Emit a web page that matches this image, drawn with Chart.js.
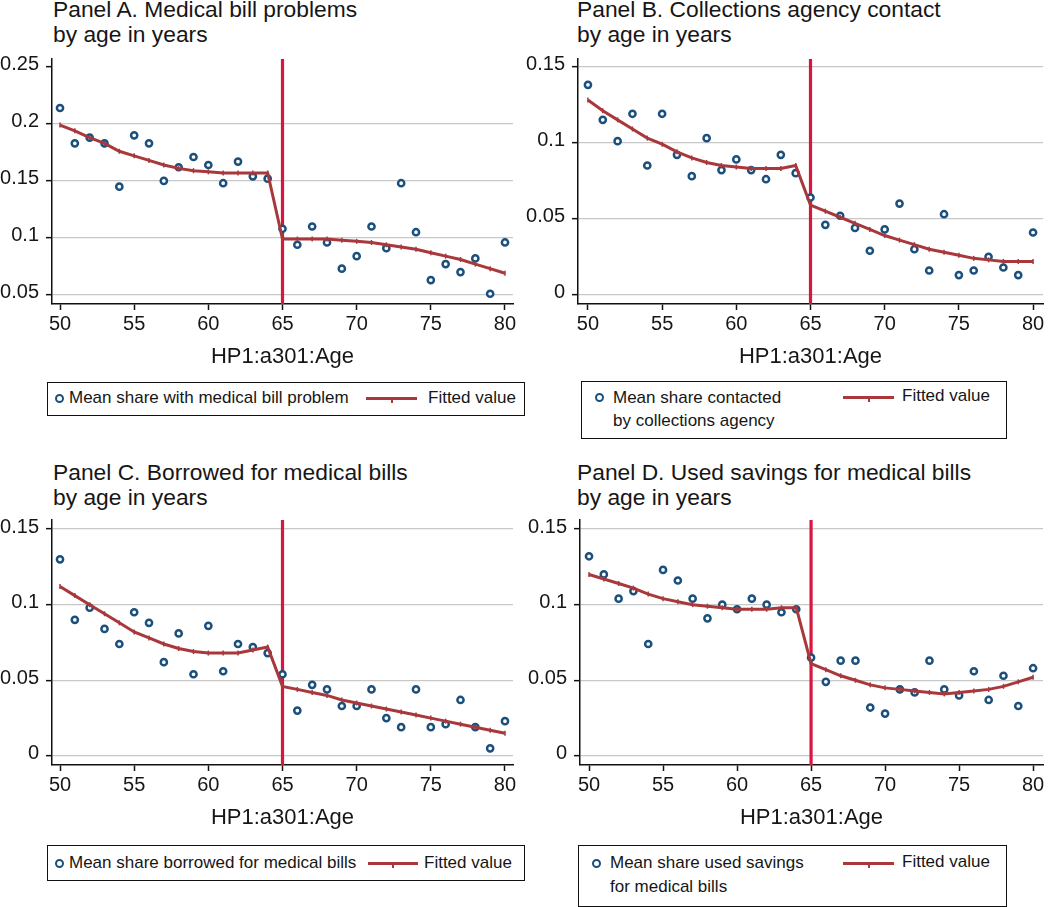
<!DOCTYPE html>
<html>
<head>
<meta charset="utf-8">
<title>Medical bill problems by age</title>
<script src="https://cdn.jsdelivr.net/npm/chart.js@4.4.1/dist/chart.umd.min.js"></script>
<style>
  body { margin: 0; background: #fff; }
  #page { position: relative; width: 1050px; height: 907px; overflow: hidden; font-family: "Liberation Sans", Arial, sans-serif; color: #161616; }
  .panel-title { position: absolute; font-size: 22.8px; line-height: 25px; white-space: nowrap; }
  canvas { position: absolute; }
  .legend-box { position: absolute; border: 1.5px solid #111; box-sizing: border-box; }
  .lg-text { position: absolute; font-size: 17px; line-height: 20px; white-space: nowrap; }
  .lg-dot { position: absolute; width: 9px; height: 9px; border: 2.5px solid #1b4f7c; border-radius: 50%; box-sizing: border-box; background: #fff; }
  .lg-line { position: absolute; height: 3px; background: #a8383b; }
  .lg-line::after { content: ''; position: absolute; left: 50%; top: 3px; width: 2px; height: 3px; margin-left: -1px; background: #a8383b; }
</style>
</head>
<body>
<div id="page"></div>
<script>
//Ages (x categories)
const ages = [50, 51, 52, 53, 54, 55, 56, 57, 58, 59, 60, 61, 62, 63, 64, 65,
  66, 67, 68, 69, 70, 71, 72, 73, 74, 75, 76, 77, 78, 79, 80];
const cutoffAge = 65;
const xTicks = [50, 55, 60, 65, 70, 75, 80];
const xAxisTitle = 'HP1:a301:Age';

//Panel A
const billProblemMeans = [0.214, 0.183, 0.188, 0.183, 0.145, 0.190, 0.183, 0.150, 0.162, 0.171, 0.164, 0.148, 0.167, 0.154, 0.152,
  0.108, 0.094, 0.110, 0.096, 0.073, 0.084, 0.110, 0.091, 0.148, 0.105, 0.063, 0.077, 0.070, 0.082, 0.051, 0.096];
const billProblemFit = [0.199, 0.194, 0.188, 0.183, 0.176, 0.172, 0.168, 0.164, 0.161, 0.159, 0.158, 0.157, 0.157, 0.157, 0.157,
  0.099, 0.099, 0.099, 0.099, 0.098, 0.097, 0.096, 0.094, 0.092, 0.090, 0.087, 0.084, 0.081, 0.077, 0.073, 0.069];
const billProblemTicks = [0.05, 0.1, 0.15, 0.2, 0.25];

//Panel B
const collectionsMeans = [0.138, 0.115, 0.101, 0.119, 0.085, 0.119, 0.092, 0.078, 0.103, 0.082, 0.089, 0.082, 0.076, 0.092, 0.080,
  0.064, 0.046, 0.052, 0.044, 0.029, 0.043, 0.060, 0.030, 0.016, 0.053, 0.013, 0.016, 0.025, 0.018, 0.013, 0.041];
const collectionsFit = [0.128, 0.121, 0.115, 0.109, 0.103, 0.099, 0.094, 0.090, 0.087, 0.085, 0.084, 0.083, 0.083, 0.083, 0.085,
  0.059, 0.055, 0.051, 0.047, 0.043, 0.039, 0.036, 0.033, 0.030, 0.028, 0.026, 0.024, 0.023, 0.022, 0.022, 0.022];

//Panel C
const borrowedMeans = [0.130, 0.090, 0.098, 0.084, 0.074, 0.095, 0.088, 0.062, 0.081, 0.054, 0.086, 0.056, 0.074, 0.072, 0.068,
  0.054, 0.030, 0.047, 0.044, 0.033, 0.033, 0.044, 0.025, 0.019, 0.044, 0.019, 0.021, 0.037, 0.019, 0.005, 0.023];
const borrowedFit = [0.112, 0.106, 0.100, 0.094, 0.088, 0.082, 0.078, 0.074, 0.071, 0.069, 0.068, 0.068, 0.068, 0.070, 0.072,
  0.046, 0.044, 0.042, 0.040, 0.037, 0.035, 0.033, 0.031, 0.029, 0.027, 0.025, 0.023, 0.021, 0.019, 0.017, 0.015];

//Panel D
const savingsMeans = [0.132, 0.120, 0.104, 0.109, 0.074, 0.123, 0.116, 0.104, 0.091, 0.100, 0.097, 0.104, 0.100, 0.095, 0.097,
  0.065, 0.049, 0.063, 0.063, 0.032, 0.028, 0.044, 0.042, 0.063, 0.044, 0.040, 0.056, 0.037, 0.053, 0.033, 0.058];
const savingsFit = [0.120, 0.117, 0.114, 0.111, 0.107, 0.104, 0.102, 0.100, 0.099, 0.098, 0.097, 0.097, 0.097, 0.098, 0.098,
  0.061, 0.057, 0.053, 0.050, 0.047, 0.045, 0.044, 0.043, 0.042, 0.041, 0.042, 0.043, 0.044, 0.046, 0.049, 0.052];

const shareTicks = [0, 0.05, 0.1, 0.15];

const FONT = '"Liberation Sans", Arial, sans-serif';
const DOT_COLOR = '#1b4f7c';
const FIT_COLOR = '#a8383b';
const CUTOFF_COLOR = '#d8173f';
const GRID_COLOR = '#c8c8c8';
const INK = '#161616';

const panels = [
  {
    title: ['Panel A. Medical bill problems', 'by age in years'],
    means: billProblemMeans, fit: billProblemFit, yTicks: billProblemTicks, noGridAt: 0.25,
    yMin: 0.042, yMax: 0.257, xMin: 49.46, xMax: 80.54,
    left: 0, plotTop: 58, axisWidth: 52, padRight: 12, titleX: 53, titleY: -3,
    legend: {
      box: [47, 382, 525, 416], dot: [59, 398], text: [[69, 398, 'Mean share with medical bill problem']],
      line: [366, 417, 398], fitText: [428, 398]
    }
  },
  {
    title: ['Panel B. Collections agency contact', 'by age in years'],
    means: collectionsMeans, fit: collectionsFit, yTicks: shareTicks, noGridAt: null,
    yMin: -0.006, yMax: 0.155, xMin: 49.33, xMax: 80.67,
    left: 525, plotTop: 58, axisWidth: 53, padRight: 7, titleX: 577, titleY: -3,
    legend: {
      box: [581, 381, 1007, 439], dot: [599, 397],
      text: [[613, 398, 'Mean share contacted'], [613, 421, 'by collections agency']],
      line: [843, 894, 397], fitText: [902, 396]
    }
  },
  {
    title: ['Panel C. Borrowed for medical bills', 'by age in years'],
    means: borrowedMeans, fit: borrowedFit, yTicks: shareTicks, noGridAt: null,
    yMin: -0.006, yMax: 0.156, xMin: 49.46, xMax: 80.54,
    left: 0, plotTop: 519, axisWidth: 52, padRight: 12, titleX: 53, titleY: 460,
    legend: {
      box: [47, 845, 525, 881], dot: [59, 863], text: [[69, 863, 'Mean share borrowed for medical bills']],
      line: [368, 418, 863], fitText: [424, 863]
    }
  },
  {
    title: ['Panel D. Used savings for medical bills', 'by age in years'],
    means: savingsMeans, fit: savingsFit, yTicks: shareTicks, noGridAt: null,
    yMin: -0.006, yMax: 0.156, xMin: 49.39, xMax: 80.67,
    left: 525, plotTop: 519, axisWidth: 55, padRight: 7, titleX: 577, titleY: 460,
    legend: {
      box: [578, 845, 1007, 907], dot: [596, 863],
      text: [[610, 863, 'Mean share used savings'], [610, 887, 'for medical bills']],
      line: [843, 894, 863], fitText: [902, 862]
    }
  }
];

//Vertical line at the age-65 cutoff
const cutoffLine = {
  id: 'cutoffLine',
  beforeDatasetsDraw(chart, args, opts) {
    const {ctx, chartArea, scales} = chart;
    const x = scales.x.getPixelForValue(opts.value);
    ctx.save();
    ctx.strokeStyle = opts.color;
    ctx.lineWidth = opts.width;
    ctx.beginPath();
    ctx.moveTo(x, chartArea.top);
    ctx.lineTo(x, chartArea.bottom);
    ctx.stroke();
    ctx.restore();
  }
};

const page = document.getElementById('page');

function addEl(cls, styles, text) {
  const el = document.createElement('div');
  el.className = cls;
  Object.assign(el.style, styles);
  if (text) el.textContent = text;
  page.appendChild(el);
  return el;
}

//Legend box in the Stata style
function renderLegend(lg) {
  const [l, t, r, b] = lg.box;
  addEl('legend-box', {left: l + 'px', top: t + 'px', width: (r - l) + 'px', height: (b - t) + 'px'});
  addEl('lg-dot', {left: (lg.dot[0] - 4.5) + 'px', top: (lg.dot[1] - 4.5) + 'px'});
  lg.text.forEach(([x, y, s]) => addEl('lg-text', {left: x + 'px', top: (y - 10) + 'px'}, s));
  addEl('lg-line', {left: lg.line[0] + 'px', top: (lg.line[2] - 1.5) + 'px', width: (lg.line[1] - lg.line[0]) + 'px'});
  addEl('lg-text', {left: lg.fitText[0] + 'px', top: (lg.fitText[1] - 10) + 'px'}, 'Fitted value');
}

//One panel: scatter of means, fitted line, cutoff
function renderPanel(p) {
  const titleEl = addEl('panel-title', {left: p.titleX + 'px', top: p.titleY + 'px'});
  titleEl.innerHTML = p.title.join('<br>');

  const canvas = document.createElement('canvas');
  canvas.width = 525;
  canvas.height = 340;
  canvas.style.left = p.left + 'px';
  canvas.style.top = (p.plotTop - 18) + 'px';
  page.appendChild(canvas);

  const meanPoints = ages.map((a, i) => ({x: a, y: p.means[i]}));
  const fitPoints = ages.map((a, i) => ({x: a, y: p.fit[i]}));

  new Chart(canvas, {
    type: 'scatter',
    data: {
      datasets: [
        {
          label: 'Mean share',
          data: meanPoints,
          order: 2,
          pointRadius: 3.1,
          pointHoverRadius: 3.1,
          pointBorderWidth: 2.5,
          borderColor: DOT_COLOR,
          backgroundColor: '#fff'
        },
        {
          label: 'Fitted value',
          data: fitPoints,
          order: 1,
          showLine: true,
          borderColor: FIT_COLOR,
          borderWidth: 3,
          pointStyle: 'line',
          rotation: 90,
          pointRadius: 2.5,
          pointBorderWidth: 1.5,
          pointBorderColor: FIT_COLOR,
          backgroundColor: FIT_COLOR
        }
      ]
    },
    options: {
      responsive: false,
      animation: false,
      devicePixelRatio: 1,
      layout: {padding: {top: 18, right: p.padRight, left: 0, bottom: 0}},
      plugins: {
        legend: {display: false},
        tooltip: {enabled: false},
        cutoffLine: {value: cutoffAge, color: CUTOFF_COLOR, width: 3.2}
      },
      scales: {
        x: {
          type: 'linear',
          min: p.xMin,
          max: p.xMax,
          afterBuildTicks: s => { s.ticks = xTicks.map(v => ({value: v})); },
          afterFit: s => { s.height = 76; },
          grid: {drawOnChartArea: false, drawTicks: true, tickLength: 6, tickColor: '#111', tickWidth: 1.5},
          border: {display: true, color: '#111', width: 1.5},
          ticks: {font: {family: FONT, size: 20}, color: INK, padding: 2, maxRotation: 0, autoSkip: false,
            callback: v => String(v)},
          title: {display: true, text: xAxisTitle, font: {family: FONT, size: 22}, color: INK,
            padding: {top: 0, bottom: 10}}
        },
        y: {
          min: p.yMin,
          max: p.yMax,
          afterBuildTicks: s => { s.ticks = p.yTicks.map(v => ({value: v})); },
          afterFit: s => { s.width = p.axisWidth; },
          grid: {
            color: c => (c.tick && c.tick.value === p.noGridAt) ? 'rgba(0,0,0,0)' : GRID_COLOR,
            lineWidth: 1.3,
            drawTicks: true, tickLength: 6, tickColor: '#111', tickWidth: 1.5
          },
          border: {display: true, color: '#111', width: 1.5},
          ticks: {font: {family: FONT, size: 20}, color: INK, padding: 7, labelOffset: -2,
            callback: v => String(v)}
        }
      }
    },
    plugins: [cutoffLine]
  });

  renderLegend(p.legend);
}

Chart.defaults.font.family = FONT;
panels.forEach(renderPanel);
</script>
</body>
</html>
